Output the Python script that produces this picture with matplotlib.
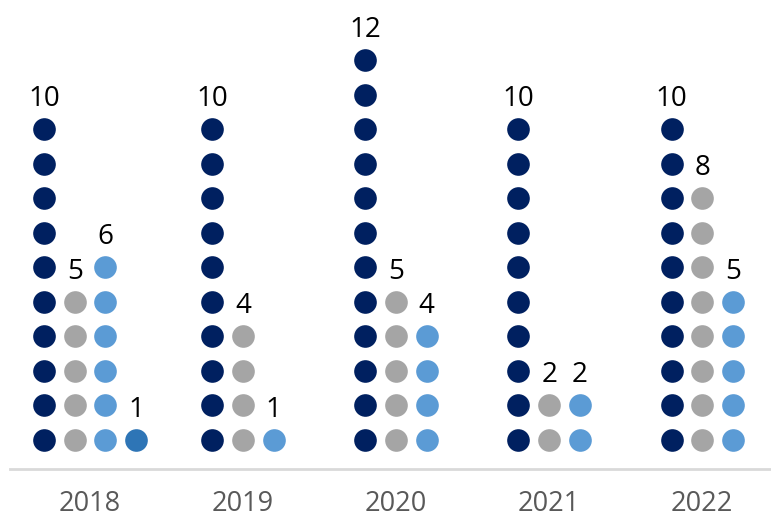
import matplotlib.pyplot as plt

years = ["2018", "2019", "2020", "2021", "2022"]
navy = [10, 10, 12, 10, 10]
gray = [5, 4, 5, 2, 8]
light = [6, 1, 4, 2, 5]
mid = [1, 0, 0, 0, 0]

series = [navy, gray, light, mid]
colors = ["#002060", "#A5A5A5", "#5B9BD5", "#2E75B6"]

plt.rcParams['font.family'] = ['Open Sans', 'DejaVu Sans']

fig = plt.figure(figsize=(7.71, 5.2), dpi=100)
ax = fig.add_axes([0, 0, 1, 1])

gap = 0.2  # spacing between dot columns in a group
for i, yr in enumerate(years):
    # only the non-zero series are drawn, centred on the year
    present = [k for k in range(len(series)) if series[k][i] > 0]
    n = len(present)
    for j, k in enumerate(present):
        x = i + (j - (n - 1) / 2) * gap
        v = series[k][i]
        ys = list(range(1, v + 1))
        ax.plot([x] * v, ys, 'o', color=colors[k], markersize=16.3,
                markeredgewidth=0, linestyle='none')
        ax.text(x, v + 0.98, str(v), ha='center', va='center_baseline',
                fontsize=20, color='black')
    ax.text(i, -0.74, yr, ha='center', va='center_baseline', fontsize=19.5,
            color='#595959')

# baseline
ax.plot([-0.52, 4.445], [0.16, 0.16], color='#D9D9D9', linewidth=2)

ax.set_xlim(-0.588, 4.45)
ax.set_ylim(-1.319, 13.75)
ax.axis('off')

fig.savefig("out.png", dpi=100)
